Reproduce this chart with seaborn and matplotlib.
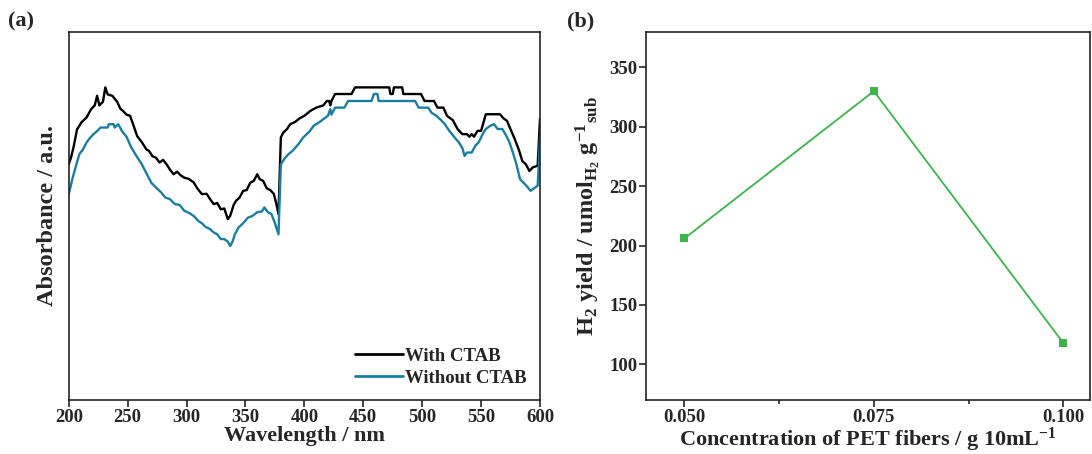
#!/usr/bin/env python3
"""
UV-vis absorbance of fibers with / without CTAB (a) and
H2 yield vs PET fiber concentration (b).
"""
import matplotlib
matplotlib.use("Agg")
import matplotlib.pyplot as plt
import pandas as pd
import seaborn as sns

# (a) absorbance spectra, arbitrary units
wl_ctab = [200, 202, 204, 207, 211, 215, 219, 222, 224, 226, 229, 231, 233,
           237, 241, 244, 246, 249, 252, 255, 258, 262, 266, 268, 271, 274,
           277, 280, 283, 286, 289, 292, 295, 298, 302, 306, 309, 313, 317,
           320, 323, 326, 329, 332, 335, 337, 340, 342, 345, 348, 351, 354,
           357, 360, 362, 365, 368, 371, 374, 376, 378, 380, 382, 385, 388,
           392, 396, 400, 405, 410, 416, 419, 421, 422, 423, 426, 440, 443,
           472, 473, 475, 476, 483, 484, 499, 502, 510, 513, 518, 521, 526,
           530, 534, 538, 540, 542, 544, 547, 550, 554, 566, 569, 572, 575,
           578, 582, 585, 588, 591, 594, 598, 599, 600]
abs_ctab = [0.640, 0.660, 0.686, 0.735, 0.755, 0.767, 0.790, 0.800, 0.826,
            0.800, 0.810, 0.849, 0.830, 0.826, 0.810, 0.790, 0.785, 0.775,
            0.772, 0.745, 0.717, 0.700, 0.680, 0.677, 0.662, 0.658, 0.645,
            0.652, 0.640, 0.625, 0.613, 0.620, 0.610, 0.604, 0.600, 0.591,
            0.575, 0.559, 0.560, 0.545, 0.532, 0.535, 0.518, 0.520, 0.491,
            0.500, 0.530, 0.541, 0.550, 0.568, 0.570, 0.590, 0.595, 0.613,
            0.600, 0.595, 0.575, 0.570, 0.560, 0.535, 0.505, 0.713, 0.726,
            0.735, 0.749, 0.755, 0.765, 0.772, 0.785, 0.794, 0.800, 0.812,
            0.812, 0.800, 0.812, 0.831, 0.831, 0.849, 0.849, 0.831, 0.831,
            0.849, 0.849, 0.831, 0.831, 0.812, 0.812, 0.794, 0.794, 0.772,
            0.760, 0.736, 0.722, 0.722, 0.715, 0.722, 0.715, 0.731, 0.731,
            0.776, 0.776, 0.765, 0.758, 0.735, 0.713, 0.680, 0.649, 0.640,
            0.622, 0.632, 0.636, 0.700, 0.763]

wl_no_ctab = [200, 203, 206, 209, 212, 215, 218, 221, 224, 227, 233, 234, 238,
              239, 242, 245, 249, 253, 257, 262, 266, 270, 274, 278, 282, 286,
              290, 294, 298, 302, 306, 310, 313, 316, 320, 323, 326, 329, 332,
              335, 337, 339, 341, 344, 348, 352, 356, 360, 364, 366, 369, 372,
              375, 378, 380, 383, 386, 390, 395, 399, 404, 408, 413, 417, 420,
              422, 423, 426, 434, 437, 457, 459, 462, 463, 494, 497, 505, 508,
              512, 516, 519, 523, 527, 531, 534, 536, 538, 542, 545, 548, 551,
              554, 558, 561, 564, 568, 571, 574, 577, 580, 583, 586, 589, 592,
              595, 598, 599, 600]
abs_no_ctab = [0.559, 0.600, 0.635, 0.668, 0.680, 0.699, 0.712, 0.722, 0.730,
               0.740, 0.740, 0.749, 0.749, 0.740, 0.749, 0.731, 0.715, 0.686,
               0.665, 0.640, 0.615, 0.590, 0.577, 0.565, 0.550, 0.545, 0.532,
               0.530, 0.514, 0.508, 0.500, 0.486, 0.480, 0.470, 0.464, 0.455,
               0.450, 0.437, 0.437, 0.430, 0.418, 0.430, 0.450, 0.468, 0.480,
               0.495, 0.500, 0.510, 0.512, 0.523, 0.510, 0.505, 0.480, 0.450,
               0.640, 0.655, 0.666, 0.677, 0.695, 0.713, 0.728, 0.745, 0.755,
               0.765, 0.772, 0.790, 0.775, 0.794, 0.794, 0.812, 0.812, 0.831,
               0.831, 0.812, 0.812, 0.794, 0.794, 0.780, 0.772, 0.760, 0.750,
               0.731, 0.715, 0.700, 0.685, 0.663, 0.672, 0.672, 0.690, 0.700,
               0.720, 0.736, 0.745, 0.749, 0.736, 0.736, 0.720, 0.700, 0.672,
               0.640, 0.600, 0.590, 0.580, 0.568, 0.575, 0.582, 0.640, 0.713]

series_names = ["With CTAB", "Without CTAB"]

# (b) H2 yield
concentration = [0.050, 0.075, 0.100]
h2_yield = [206, 330, 118]

sns.set_style("ticks")
plt.rcParams["font.family"] = ["Liberation Serif", "DejaVu Serif"]
plt.rcParams["font.weight"] = "bold"
plt.rcParams["axes.labelweight"] = "bold"
plt.rcParams["mathtext.fontset"] = "custom"
plt.rcParams["mathtext.rm"] = "Liberation Serif:bold"
plt.rcParams["mathtext.bf"] = "Liberation Serif:bold"
plt.rcParams["mathtext.it"] = "Liberation Serif:bold"
plt.rcParams["mathtext.default"] = "rm"

spec = pd.concat([
    pd.DataFrame({"wl": wl_ctab, "abs": abs_ctab, "sample": series_names[0]}),
    pd.DataFrame({"wl": wl_no_ctab, "abs": abs_no_ctab,
                  "sample": series_names[1]}),
])
yld = pd.DataFrame({"conc": concentration, "yield": h2_yield})

fig = plt.figure(figsize=(10.92, 4.54), dpi=100)
ax_a = fig.add_axes([0.063, 0.119, 0.4315, 0.811])
ax_b = fig.add_axes([0.592, 0.119, 0.406, 0.811])

# ---- panel (a)
sns.lineplot(data=spec, x="wl", y="abs", hue="sample", ax=ax_a,
             palette={series_names[0]: "black", series_names[1]: "#1a7ea3"},
             linewidth=1.7, sort=False, estimator=None)
ax_a.set_xlim(200, 600)
ax_a.set_ylim(0, 1)
ax_a.set_xticks(range(200, 601, 50))
ax_a.set_yticks([])
ax_a.set_xlabel("Wavelength / nm", fontsize=16, labelpad=0)
ax_a.set_ylabel("Absorbance / a.u.", fontsize=17.5, labelpad=8)
ax_a.tick_params(axis="x", direction="out", length=5, width=1.2,
                 labelsize=13.5, pad=1.5)
leg = ax_a.legend(loc="lower right", frameon=False, fontsize=13.5,
                  handlelength=2.6, handletextpad=0.1, labelspacing=0.25,
                  borderaxespad=0.3)
for h in leg.get_lines():
    h.set_linewidth(2)
ax_a.text(-0.13, 1.0, "(a)", transform=ax_a.transAxes, fontsize=16,
          fontweight="bold", va="bottom", ha="left")

# ---- panel (b)
sns.lineplot(data=yld, x="conc", y="yield", ax=ax_b, color="#3cb44b",
             linewidth=1.3, marker="s", markersize=6, markeredgewidth=0)
ax_b.set_xlim(0.045, 0.1035)
ax_b.set_ylim(70, 380)
ax_b.set_xticks(concentration)
ax_b.set_xticklabels(["0.050", "0.075", "0.100"])
ax_b.set_xticks([0.0625, 0.0875], minor=True)
ax_b.set_yticks(range(100, 351, 50))
ax_b.tick_params(axis="both", which="major", direction="out", length=5,
                 width=1.2, labelsize=13.5, pad=1.5)
ax_b.tick_params(axis="x", which="minor", direction="out", length=3,
                 width=1.2)
ax_b.set_xlabel("Concentration of PET fibers / g 10mL$^{-1}$", fontsize=16,
                labelpad=0)
ax_b.set_ylabel("H$_2$ yield / umol$_{\\mathrm{H_2}}$ g$^{-1}$$_{\\mathrm{sub}}$",
                fontsize=17.5, labelpad=5)
ax_b.text(-0.18, 1.0, "(b)", transform=ax_b.transAxes, fontsize=16,
          fontweight="bold", va="bottom", ha="left")

for ax in (ax_a, ax_b):
    for s in ax.spines.values():
        s.set_visible(True)
        s.set_linewidth(1.2)
        s.set_color("#222222")

plt.savefig("out.png", dpi=100)
